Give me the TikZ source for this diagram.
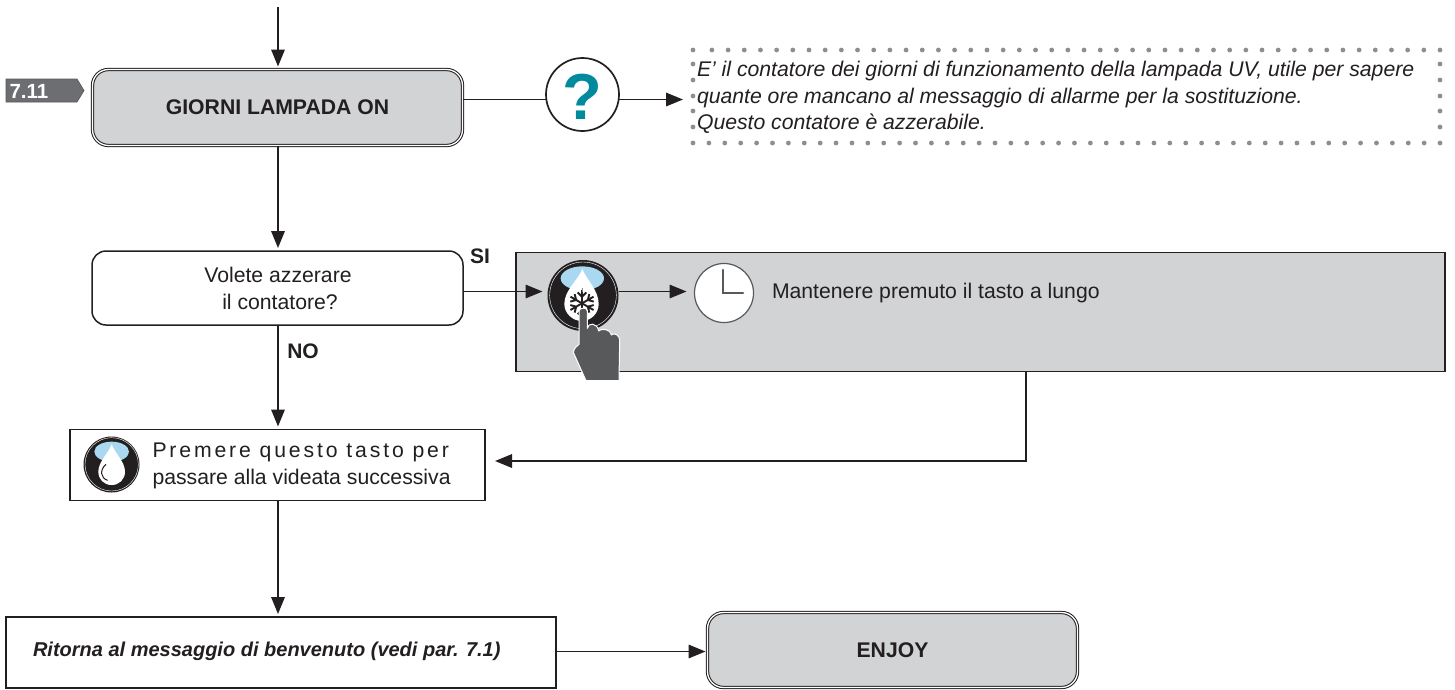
\documentclass[tikz,border=0pt]{standalone}
\usepackage{fontspec}
\setmainfont{Liberation Sans}
\usetikzlibrary{arrows.meta,calc}
\definecolor{ink}{HTML}{231F20}
\definecolor{panel}{HTML}{D1D3D4}
\definecolor{badge}{HTML}{6D6E71}
\definecolor{dotgrey}{HTML}{8C8E91}
\definecolor{teal}{HTML}{008A9E}
\definecolor{sky}{HTML}{A9D8F0}
\definecolor{handgrey}{HTML}{58595B}
\tikzset{
  x=1pt,y=-1pt,
  every node/.style={inner sep=0pt,outer sep=0pt,text=ink,font=\fontsize{21.2}{28}\selectfont},
  flow/.style={draw=ink,line width=1.7pt,shorten >=3pt,-{Triangle[length=17pt,width=13.5pt]}},
  plain/.style={draw=ink,line width=1.7pt},
  dbl/.style={rectangle,rounded corners=16pt,fill=panel,draw=ink,line width=1pt,double=white,double distance=1.3pt,font=\fontsize{21.2}{24}\selectfont\bfseries},
  rbox/.style={rectangle,rounded corners=14pt,fill=white,draw=ink,line width=1.5pt,align=center},
  sbox/.style={rectangle,fill=white,draw=ink,line width=1.6pt},
  lbl/.style={font=\fontsize{21}{24}\selectfont\bfseries},
  ndot/.style={fill=dotgrey,draw=none}
}
\begin{document}
\begin{tikzpicture}
\useasboundingbox (0,0) rectangle (1455,689);
% reference points for off-centre connectors
\coordinate (start) at (278,7);
\coordinate (lineq) at (0,99.5);
\coordinate (lines) at (0,291.5);
\coordinate (linee) at (0,651.5);
% boxes
\node[dbl,minimum width=370pt,minimum height=76pt] (lamp) at (277.5,107.5) {GIORNI LAMPADA ON};
\node[circle,draw=ink,line width=1.7pt,fill=white,minimum size=73pt] (q) at (582.5,94.5) {};
\node[anchor=base,text=teal,font=\fontsize{65}{65}\selectfont\bfseries] (qmark) at (582.7,119) {?};
\node[minimum width=750pt,minimum height=93pt] (note) at (1065,96.5) {};
\foreach \i in {0,...,45} \fill[ndot] (1440-16.18*\i,50) circle (2.4pt);
\fill[ndot] (693,50) circle (2.4pt);
\foreach \i in {0,...,47} \fill[ndot] (693+15.894*\i,143) circle (2.4pt);
\foreach \y in {64,80,96,111,127} {\fill[ndot] (693,\y) circle (2.4pt); \fill[ndot] (1440,\y) circle (2.4pt);}
\node[anchor=base west,font=\fontsize{21.2}{24}\selectfont\itshape] (note1) at (697,76.5) {E’ il contatore dei giorni di funzionamento della lampada UV, utile per sapere};
\node[anchor=base west,font=\fontsize{21.2}{24}\selectfont\itshape] (note2) at (697,103) {quante ore mancano al messaggio di allarme per la sostituzione.};
\node[anchor=base west,font=\fontsize{21.2}{24}\selectfont\itshape] (note3) at (697,129.5) {Questo contatore è azzerabile.};
% badge
\path[fill=badge,draw=handgrey,line width=.7pt] (6,79) -- (77,79) -- (84,90.5) -- (77,102) -- (6,102) -- cycle;
\node[anchor=base west,text=white,font=\fontsize{20.5}{22}\selectfont\bfseries] (badgetext) at (9.5,98) {7.11};
% decision
\node[rbox,minimum width=371pt,minimum height=74pt] (dec) at (277.5,288) {};
\node[anchor=base] (dec1) at (278,282) {Volete azzerare};
\node[anchor=base] (dec2) at (280,309.5) {il contatore?};
% panel
\node[rectangle,fill=panel,draw=ink,line width=1.6pt,minimum width=929pt,minimum height=119pt] (panelbox) at (980.5,312) {};
\node[anchor=base west] (hold) at (772,298.5) {Mantenere premuto il tasto a lungo};
% button with snowflake
\node[circle,fill=ink,minimum size=71pt] (btn) at (583,295.5) {};
\begin{scope}[shift={(510,245)},x=.3333pt,y=-.3333pt]
  \draw[white,line width=.4pt] (219,151) circle (100);
  \fill[sky] (217,100) ellipse (65 and 36);
  \fill[white] (217,72) .. controls (205,105) and (163,135) .. (163,177) .. controls (163,205) and (188,228) .. (215,228) .. controls (243,228) and (266,205) .. (266,177) .. controls (266,135) and (230,105) .. (217,72) -- cycle;
  \foreach \a in {0,60,120} {
    \draw[ink,line width=1.9pt,rotate around={\a:(216,175)}] (216,135) -- (216,215)
      (203,142) -- (216,155) -- (229,142) (203,208) -- (216,195) -- (229,208);
  }
  \draw[handgrey!60!sky,line width=.6pt] (216,128) -- (216,140);
  \draw[fill=handgrey,line width=1pt,draw=white,line join=round]
    (207,198) .. controls (207,188) and (232,185) .. (232,198) -- (232,250)
    .. controls (234,232) and (262,232) .. (266,258)
    .. controls (272,250) and (300,250) .. (304,270)
    .. controls (312,262) and (330,268) .. (329,290)
    -- (327,407) -- (228,407) -- (190,322)
    .. controls (192,308) and (202,303) .. (207,298) -- cycle;
\end{scope}
% clock
\node[circle,fill=white,draw=handgrey,line width=1.2pt,minimum size=59pt] (clock) at (724,293) {};
\draw[handgrey,line width=2.6pt,line cap=round,line join=miter] (723,270) -- (723,293) -- (743,293);
% premere
\node[sbox,minimum width=415pt,minimum height=71pt] (prem) at (277.5,465) {};
\node[circle,fill=ink,minimum size=56pt] (drop) at (111.5,464.5) {};
\begin{scope}[shift={(60,420)},x=.3333pt,y=-.3333pt]
  \draw[white,line width=.4pt] (155,133) circle (80);
  \fill[sky] (155,95) ellipse (52 and 30);
  \fill[white] (155,73) .. controls (145,100) and (115,125) .. (115,155) .. controls (115,178) and (132,195) .. (155,195) .. controls (178,195) and (195,178) .. (195,155) .. controls (195,125) and (165,100) .. (155,73) -- cycle;
  \draw[ink,line width=1pt] (138,133) .. controls (118,150) and (122,175) .. (143,181);
\end{scope}
\node[anchor=base west,font=\fontsize{21.2}{24}\selectfont\addfontfeature{LetterSpace=13.5}] (prem1) at (152.5,457) {Premere questo tasto per};
\node[anchor=base west] (prem2) at (152.5,484) {passare alla videata successiva};
% return
\node[sbox,minimum width=549.5pt,minimum height=71pt] (ret) at (281,652.5) {};
\node[anchor=base west,font=\fontsize{20}{24}\selectfont\bfseries\itshape] (rettext) at (33,656.5) {Ritorna al messaggio di benvenuto (vedi par. 7.1)};
\node[dbl,minimum width=370pt,minimum height=75pt] (enjoy) at (892.5,650) {ENJOY};
% labels
\node[lbl] (si) at (480,256) {SI};
\node[lbl] (no) at (303,351) {NO};
% connectors
\draw[flow] (start) -- (lamp.north -| start);
\draw[plain] (lamp.east |- lineq) -- (q.west |- lineq);
\draw[flow,shorten >=7pt] (q.east |- lineq) -- (note.west |- lineq);
\draw[flow] (lamp.south -| start) -- (dec.north -| start);
\draw[flow,shorten >=5pt] (dec.east |- lines) -- (btn.west |- lines);
\draw[flow,shorten >=8pt] (btn.east |- lines) -- (clock.west |- lines);
\draw[flow] (dec.south -| start) -- (prem.north -| start);
\coordinate (pdown) at (1026,461);
\coordinate (pend) at (495,461);
\draw[flow,shorten >=0pt] (panelbox.south -| pdown) -- (pdown) -- (pend);
\draw[flow] (prem.south -| start) -- (ret.north -| start);
\draw[flow,shorten >=2pt] (ret.east |- linee) -- (enjoy.west |- linee);
\end{tikzpicture}
\end{document}
